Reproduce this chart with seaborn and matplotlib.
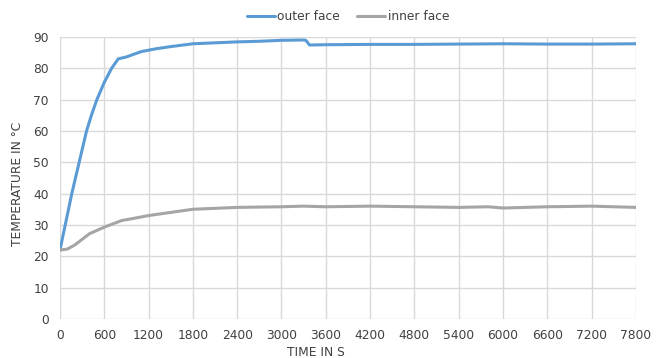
import matplotlib
matplotlib.use("Agg")
import matplotlib.pyplot as plt
import seaborn as sns
import pandas as pd

time_outer = [0, 80, 160, 260, 360, 430, 500, 600, 700, 790, 900, 1100, 1300, 1500, 1800, 2100, 2400,
              2700, 3000, 3300, 3330, 3380, 3600, 4200, 4800, 5400, 6000, 6600, 7200, 7800]
outer_face = [22, 31, 40, 50, 60, 65.3, 70, 75.5, 80, 83, 83.6, 85.3, 86.2, 86.9, 87.8, 88.1, 88.4,
              88.6, 88.9, 89.0, 88.9, 87.4, 87.5, 87.6, 87.6, 87.7, 87.8, 87.7, 87.7, 87.8]

time_inner = [0, 100, 200, 400, 600, 835, 1000, 1200, 1500, 1800, 2100, 2400, 3000, 3300, 3600,
              4200, 4800, 5400, 5800, 6000, 6600, 7200, 7800]
inner_face = [22, 22.3, 23.6, 27.2, 29.3, 31.4, 32.1, 33, 34, 35, 35.3, 35.6, 35.8, 36, 35.8,
              36, 35.8, 35.6, 35.8, 35.4, 35.8, 36, 35.6]

df = pd.concat([
    pd.DataFrame({"t": time_outer, "T": outer_face, "series": "outer face"}),
    pd.DataFrame({"t": time_inner, "T": inner_face, "series": "inner face"}),
])

sns.set_style("white")
plt.rcParams['font.family'] = ['DejaVu Sans']
fs = 8.8
fig = plt.figure(figsize=(6.62, 3.58), dpi=100)
ax = fig.add_axes([0.0906, 0.109, 0.870, 0.788])
sns.lineplot(data=df, x="t", y="T", hue="series",
             palette={"outer face": "#5b9bd5", "inner face": "#a5a5a5"},
             linewidth=2.2, ax=ax, legend=True)
ax.set_xlim(0, 7800)
ax.set_ylim(0, 90)
ax.set_xticks(range(0, 7801, 600))
ax.set_yticks(range(0, 91, 10))
ax.grid(True, color="#d9d9d9", linewidth=1)
for s in ax.spines.values():
    s.set_visible(False)
ax.tick_params(axis="x", length=0, labelsize=fs, colors="#404040", pad=7.5)
ax.tick_params(axis="y", length=0, labelsize=fs, colors="#404040", pad=8)
ax.set_xlabel("TIME IN S", fontsize=fs, color="#404040")
ax.xaxis.set_label_coords(0.444, -0.095)
ax.set_ylabel("TEMPERATURE IN °C", fontsize=fs, color="#404040")
ax.yaxis.set_label_coords(-0.062, 0.479)
ax.legend(title=None, loc="center", bbox_to_anchor=(0.5, 1.072), ncol=2, frameon=False,
          fontsize=fs, handlelength=2.3, handletextpad=0.2, columnspacing=1.4,
          labelcolor="#404040")
fig.savefig("out.png", dpi=100)
